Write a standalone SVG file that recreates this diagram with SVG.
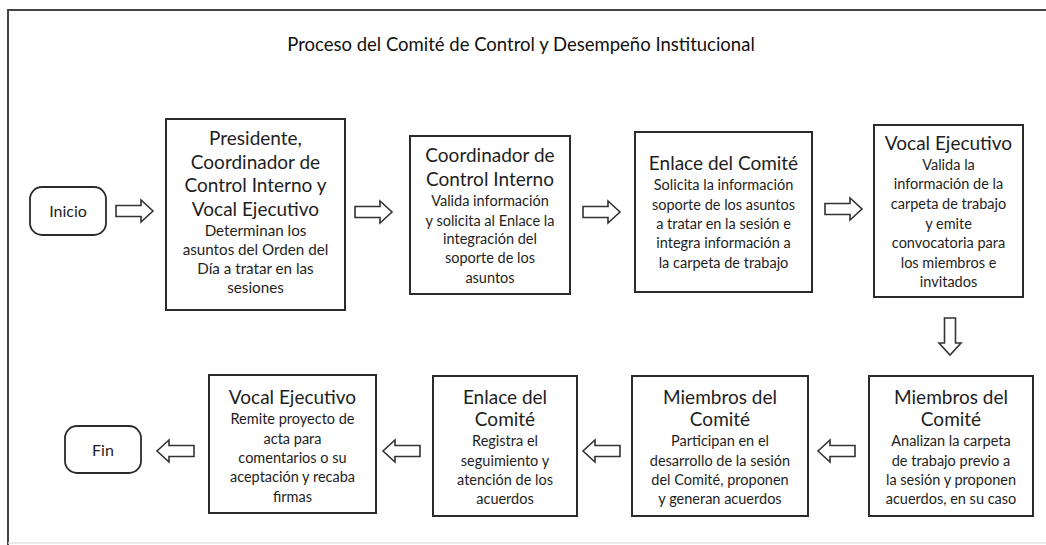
<svg xmlns="http://www.w3.org/2000/svg" xmlns:xlink="http://www.w3.org/1999/xlink" width="1046" height="545" viewBox="0 0 1046 545">
<style>
text{font-family:Lato,"Open Sans","Liberation Sans",sans-serif;fill:#1e1e1e;text-anchor:middle}
.h{font-size:19px}
.b{font-size:14.5px}
.b1{font-size:15.2px}
.t{font-size:18.5px;fill:#111}
.s{font-size:16px}
.box{fill:#fff;stroke:#2b2b2b;stroke-width:2}
.term{fill:#fff;stroke:#2b2b2b;stroke-width:1.8}
.arw{fill:#fff;stroke:#333;stroke-width:1.6;stroke-linejoin:miter}
</style>
<defs>
<path id="arw" d="M0,-5.5 H25 V-11 L37,0 L25,11 V5.5 H0 Z"/>
</defs>
<rect width="1046" height="545" fill="#fff"/>
<path d="M8,545 V10 H1046" fill="none" stroke="#444" stroke-width="2"/>
<line x1="8" y1="543" x2="1046" y2="543" stroke="#e2e2e2" stroke-width="1.5"/>
<text class="t" x="521" y="51">Proceso del Comité de Control y Desempeño Institucional</text>

<g id="inicio">
<rect class="term" x="30" y="187" width="76" height="48" rx="12"/>
<text class="s" x="68" y="216.5">Inicio</text>
</g>

<g id="n1">
<rect class="box" x="166" y="119" width="179" height="191"/>
<text class="h" x="255.5" y="145">Presidente,</text>
<text class="h" x="255.5" y="169">Coordinador de</text>
<text class="h" x="255.5" y="192">Control Interno y</text>
<text class="h" x="255.5" y="216">Vocal Ejecutivo</text>
<text class="b1" x="255.5" y="236">Determinan los</text>
<text class="b1" x="255.5" y="255">asuntos del Orden del</text>
<text class="b1" x="255.5" y="274">Día a tratar en las</text>
<text class="b1" x="255.5" y="293">sesiones</text>
</g>

<g id="n2">
<rect class="box" x="410" y="136" width="160" height="158"/>
<text class="h" x="490" y="162">Coordinador de</text>
<text class="h" x="490" y="186">Control Interno</text>
<text class="b" x="490" y="206">Valida información</text>
<text class="b" x="490" y="226">y solicita al Enlace la</text>
<text class="b" x="490" y="244">integración del</text>
<text class="b" x="490" y="263">soporte de los</text>
<text class="b" x="490" y="283">asuntos</text>
</g>

<g id="n3">
<rect class="box" x="635" y="132" width="177" height="160"/>
<text class="h" x="723.5" y="170">Enlace del Comité</text>
<text class="b" x="723.5" y="190">Solicita la información</text>
<text class="b" x="723.5" y="210">soporte de los asuntos</text>
<text class="b" x="723.5" y="229">a tratar en la sesión e</text>
<text class="b" x="723.5" y="248">integra información a</text>
<text class="b" x="723.5" y="268">la carpeta de trabajo</text>
</g>

<g id="n4">
<rect class="box" x="874" y="125" width="149" height="172"/>
<text class="h" x="948.5" y="150">Vocal Ejecutivo</text>
<text class="b" x="948.5" y="170">Valida la</text>
<text class="b" x="948.5" y="189">información de la</text>
<text class="b" x="948.5" y="209">carpeta de trabajo</text>
<text class="b" x="948.5" y="229">y emite</text>
<text class="b" x="948.5" y="248">convocatoria para</text>
<text class="b" x="948.5" y="268">los miembros e</text>
<text class="b" x="948.5" y="287">invitados</text>
</g>

<g id="n5">
<rect class="box" x="869" y="376" width="164" height="140"/>
<text class="h" x="951" y="404">Miembros del</text>
<text class="h" x="951" y="426">Comité</text>
<text class="b" x="951" y="446">Analizan la carpeta</text>
<text class="b" x="951" y="466">de trabajo previo a</text>
<text class="b" x="951" y="485">la sesión y proponen</text>
<text class="b" x="951" y="504">acuerdos, en su caso</text>
</g>

<g id="n6">
<rect class="box" x="632" y="376" width="176" height="140"/>
<text class="h" x="720" y="404">Miembros del</text>
<text class="h" x="720" y="426">Comité</text>
<text class="b" x="720" y="446">Participan en el</text>
<text class="b" x="720" y="466">desarrollo de la sesión</text>
<text class="b" x="720" y="485">del Comité, proponen</text>
<text class="b" x="720" y="504">y generan acuerdos</text>
</g>

<g id="n7">
<rect class="box" x="433" y="376" width="144" height="140"/>
<text class="h" x="505" y="404">Enlace del</text>
<text class="h" x="505" y="426">Comité</text>
<text class="b" x="505" y="446">Registra el</text>
<text class="b" x="505" y="466">seguimiento y</text>
<text class="b" x="505" y="485">atención de los</text>
<text class="b" x="505" y="504">acuerdos</text>
</g>

<g id="n8">
<rect class="box" x="209" y="375" width="167" height="138"/>
<text class="h" x="292.5" y="404">Vocal Ejecutivo</text>
<text class="b" x="292.5" y="424">Remite proyecto de</text>
<text class="b" x="292.5" y="444">acta para</text>
<text class="b" x="292.5" y="463">comentarios o su</text>
<text class="b" x="292.5" y="482">aceptación y recaba</text>
<text class="b" x="292.5" y="502">firmas</text>
</g>

<g id="fin">
<rect class="term" x="65" y="426" width="76" height="47" rx="12"/>
<text class="s" x="103" y="455.5">Fin</text>
</g>

<g id="connectors" class="arw">
<use href="#arw" xlink:href="#arw" transform="translate(116,211)"/>
<use href="#arw" xlink:href="#arw" transform="translate(355,212)"/>
<use href="#arw" xlink:href="#arw" transform="translate(583,212)"/>
<use href="#arw" xlink:href="#arw" transform="translate(825,209)"/>
<use href="#arw" xlink:href="#arw" transform="translate(950,318) rotate(90)"/>
<use href="#arw" xlink:href="#arw" transform="translate(855,451) scale(-1,1)"/>
<use href="#arw" xlink:href="#arw" transform="translate(620,451) scale(-1,1)"/>
<use href="#arw" xlink:href="#arw" transform="translate(420,451) scale(-1,1)"/>
<use href="#arw" xlink:href="#arw" transform="translate(194,451) scale(-1,1)"/>
</g>
</svg>
